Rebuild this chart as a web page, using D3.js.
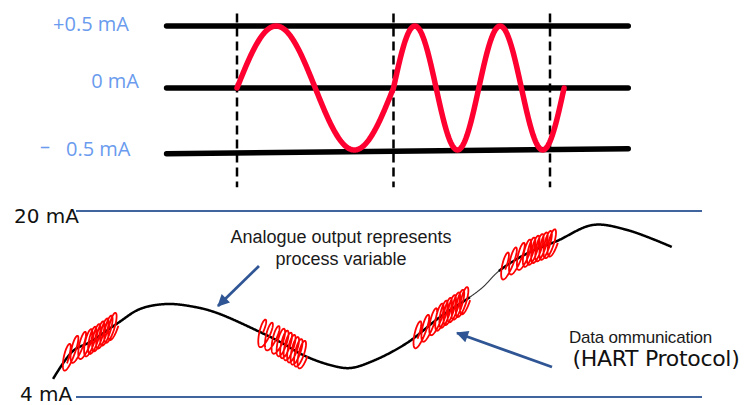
<!DOCTYPE html>
<html><head><meta charset="utf-8">
<script src="https://cdn.jsdelivr.net/npm/d3@7"></script>
<style>html,body{margin:0;padding:0;background:#fff;} svg{display:block;}</style>
</head><body>
<svg id="chart" width="747" height="405"></svg>
<script>
// ================= DATA =================
// Top panel: FSK signal (current deviation, mA) vs bit time
const levelLabels = ["+0.5 mA", "0 mA", "0.5 mA"];
const levelValues = [0.5, 0, -0.5];
const levelLeftValues = [0.5, 0, -0.53];
const levelRightValues = [0.5, 0, -0.49];
const levelSpan = [-0.45, 2.5];
const bitBoundaries = [0, 1, 2];
const guideSpan = [0.6, -0.8];
const fskStart = [0, 1];
const fskEnd = [1, 2.09];
const fskCycles = [1, 2];

// Bottom panel: analogue loop current (mA) vs time
const rangeLabels = ["20 mA", "4 mA"];
const rangeValues = [20, 4];
const pvTime = [-3.67, -0.48, 2.24, 6.71, 10.22, 14.54, 19.01, 22.52, 29.39, 32.91, 36.26, 40.58, 43.77, 47.44, 52.88, 58.15, 62.94, 65.02, 67.57, 72.20, 76.84, 82.59, 88.02, 95.21];
const pvCurrent = [5.55, 7.96, 8.73, 10.37, 11.57, 12.0, 11.74, 11.23, 9.59, 8.65, 7.61, 6.75, 6.49, 7.10, 8.65, 10.88, 12.60, 13.46, 14.84, 16.39, 17.42, 18.80, 18.37, 16.90];
const burstStart = [-2.0, 29.3, 54.0, 68.0];
const burstEnd = [6.2, 36.4, 62.4, 76.4];
const burstLowCycles = [3, 3, 3, 3];
const burstHighCycles = [7, 7, 7, 7];
const thinSegment = [62.9, 67.6];

const annoLines1 = ["Analogue output represents", "process variable"];
const annoPos1 = [42.33, 17.25];
const arrow1 = [[29.23, 15.27], [22.68, 11.83]];
const annoLine2a = "Data ommunication";
const annoLine2b = "(HART Protocol)";
const annoPos2a = [78.75, 8.65];
const annoPos2b = [79.3, 6.67];
const arrow2 = [[76.04, 6.58], [60.86, 9.51]];

// ================= DRAW =================
const svg = d3.select("#chart");
const RED = "#ff0030";
const BLUE = "#2f5594";
const LINEBLUE = "#3f649e";
const LABELBLUE = "#6a9bee";

// ---- top panel ----
const xTop = d3.scaleLinear().domain([0, 2]).range([237, 550]);
const yTop = d3.scaleLinear().domain([-0.5, 0.5]).range([150, 26]);

const gTop = svg.append("g");
levelValues.forEach((v, i) => {
  gTop.append("line")
    .attr("x1", xTop(levelSpan[0])).attr("x2", xTop(levelSpan[1]))
    .attr("y1", yTop(levelLeftValues[i])).attr("y2", yTop(levelRightValues[i]))
    .attr("stroke", "#000").attr("stroke-width", 5.5).attr("stroke-linecap", "round");
});
bitBoundaries.forEach(b => {
  gTop.append("line")
    .attr("x1", xTop(b)).attr("x2", xTop(b))
    .attr("y1", yTop(guideSpan[0])).attr("y2", yTop(guideSpan[1]))
    .attr("stroke", "#000").attr("stroke-width", 2.5).attr("stroke-dasharray", "9,5");
});
// FSK wave
const wave = [];
fskStart.forEach((s, i) => {
  const e = fskEnd[i], n = 200;
  for (let k = (i === 0 ? 0 : 1); k <= n; k++) {
    const t = s + (e - s) * k / n;
    wave.push([t, 0.5 * Math.sin(2 * Math.PI * fskCycles[i] * (t - s) / (e - s))]);
  }
});
gTop.append("path")
  .attr("d", d3.line().x(d => xTop(d[0])).y(d => yTop(d[1]))(wave))
  .attr("fill", "none").attr("stroke", RED).attr("stroke-width", 5.5)
  .attr("stroke-linecap", "round").attr("stroke-linejoin", "round");

// level labels
const labelFont = "'Open Sans', 'Noto Sans', sans-serif";
const labelLayout = [{x: 129, dy: 5}, {x: 139, dy: 0}, {x: 131, dy: 6}];
levelLabels.forEach((lab, i) => {
  const t = gTop.append("text")
    .attr("x", labelLayout[i].x).attr("y", yTop(levelValues[i]) + labelLayout[i].dy)
    .attr("text-anchor", "end").attr("font-family", labelFont).attr("font-size", 20)
    .attr("fill", LABELBLUE);
  if (levelValues[i] < 0) {
    t.attr("text-anchor", "start");
    t.append("tspan").attr("x", 40).attr("dy", -3).text("–");
    t.append("tspan").attr("x", 66).attr("dy", 3).text(lab);
  } else {
    t.text(lab);
  }
});

// ---- bottom panel ----
const xB = d3.scaleLinear().domain([0, 100]).range([76, 702]);
const yB = d3.scaleLinear().domain([4, 20]).range([397, 211]);
const bot = svg.append("g");

rangeValues.forEach(v => {
  bot.append("line")
    .attr("x1", xB(0)).attr("x2", xB(100))
    .attr("y1", yB(v)).attr("y2", yB(v))
    .attr("stroke", LINEBLUE).attr("stroke-width", 2);
});

// process-variable curve (sampled from a smooth path)
const pv = pvTime.map((t, i) => [xB(t), yB(pvCurrent[i])]);
const hidden = bot.append("path")
  .attr("d", d3.line().curve(d3.curveCatmullRom.alpha(0.5))(pv))
  .attr("fill", "none").attr("stroke", "none");
const node = hidden.node();
const L = node.getTotalLength();
const samples = [];
for (let l = 0; l <= L; l += 0.5) { const p = node.getPointAtLength(l); samples.push([p.x, p.y]); }
const bis = d3.bisector(d => d[0]).left;
function yAt(x) {
  let i = bis(samples, x);
  if (i <= 0) return samples[0][1];
  if (i >= samples.length) return samples[samples.length - 1][1];
  const a = samples[i - 1], b = samples[i];
  const f = (x - a[0]) / ((b[0] - a[0]) || 1);
  return a[1] + f * (b[1] - a[1]);
}
const thinX0 = xB(thinSegment[0]), thinX1 = xB(thinSegment[1]);
const lineGen = d3.line();
bot.append("path").attr("d", lineGen(samples.filter(p => p[0] <= thinX0 + 0.5)))
  .attr("fill", "none").attr("stroke", "#000").attr("stroke-width", 2.5);
bot.append("path").attr("d", lineGen(samples.filter(p => p[0] >= thinX1 - 0.5)))
  .attr("fill", "none").attr("stroke", "#000").attr("stroke-width", 2.5);
bot.append("path").attr("d", lineGen(samples.filter(p => p[0] >= thinX0 && p[0] <= thinX1)))
  .attr("fill", "none").attr("stroke", "#333").attr("stroke-width", 1.1);

// bursts (FSK coils riding on the analogue signal): tall, slightly tilted rings
const theta = 12 * Math.PI / 180;
const u = [Math.sin(theta), -Math.cos(theta)];
const v = [Math.cos(theta), Math.sin(theta)];
const A = 14, B = 3.6;
const perCycle = 120;
// within one ring the centre advances mostly while the pen is at the ring's right side
const wts = d3.range(perCycle).map(k => Math.pow(1 + Math.cos(2 * Math.PI * k / perCycle), 2));
const cum = [0]; wts.forEach((w, k) => cum.push(cum[k] + w));
const cumN = cum.map(c => c / cum[perCycle]);
burstStart.forEach((s, i) => {
  const e = burstEnd[i];
  const nLow = burstLowCycles[i], nHigh = burstHighCycles[i];
  const mid = s + (e - s) * 0.45;
  const total = nLow + nHigh;
  const pts = [];
  for (let k = 0; k <= total * perCycle; k++) {
    const ci = Math.min(Math.floor(k / perCycle), total - 1);
    const kk = k - ci * perCycle;
    const cc = ci + cumN[kk];
    let t;
    if (cc <= nLow) t = s + (mid - s) * cc / nLow;
    else t = mid + (e - mid) * (cc - nLow) / nHigh;
    const ph = 2 * Math.PI * k / perCycle;
    const cx = xB(t), cy = yAt(cx);
    pts.push([cx + u[0] * A * Math.sin(ph) + v[0] * B * Math.cos(ph),
              cy + u[1] * A * Math.sin(ph) + v[1] * B * Math.cos(ph)]);
  }
  bot.append("path").attr("d", d3.line()(pts))
    .attr("fill", "none").attr("stroke", "#ff0000").attr("stroke-width", 1.8);
});

// range labels
const comicFont = "'Comic Sans MS', 'DejaVu Sans', sans-serif";
const rangeLayout = [{x: 14, dy: 12}, {x: 20, dy: 4}];
rangeLabels.forEach((lab, i) => {
  bot.append("text").attr("x", rangeLayout[i].x).attr("y", yB(rangeValues[i]) + rangeLayout[i].dy)
    .attr("font-family", comicFont).attr("font-size", 20).attr("fill", "#111").text(lab);
});

// arrows
const defs = svg.append("defs");
defs.append("marker").attr("id", "ah").attr("markerUnits", "userSpaceOnUse")
  .attr("viewBox", "0 0 12 12").attr("refX", 11).attr("refY", 6)
  .attr("markerWidth", 13).attr("markerHeight", 12).attr("orient", "auto")
  .append("path").attr("d", "M0,0 L12,6 L0,12 Z").attr("fill", BLUE);
[arrow1, arrow2].forEach(a => {
  bot.append("line")
    .attr("x1", xB(a[0][0])).attr("y1", yB(a[0][1]))
    .attr("x2", xB(a[1][0])).attr("y2", yB(a[1][1]))
    .attr("stroke", BLUE).attr("stroke-width", 2.8).attr("marker-end", "url(#ah)");
});

// annotation texts
const sansFont = "'Liberation Sans', Arial, sans-serif";
annoLines1.forEach((ln, i) => {
  bot.append("text").attr("x", xB(annoPos1[0])).attr("y", yB(annoPos1[1]) + i * 22)
    .attr("text-anchor", "middle").attr("font-family", sansFont).attr("font-size", 18)
    .attr("fill", "#1a1a1a").text(ln);
});
bot.append("text").attr("x", xB(annoPos2a[0])).attr("y", yB(annoPos2a[1]))
  .attr("font-family", sansFont).attr("font-size", 17).attr("letter-spacing", -0.2)
  .attr("fill", "#1a1a1a").text(annoLine2a);
bot.append("text").attr("x", xB(annoPos2b[0])).attr("y", yB(annoPos2b[1]))
  .attr("font-family", comicFont).attr("font-size", 22).attr("letter-spacing", -0.3)
  .attr("fill", "#111").text(annoLine2b);
</script>
</body></html>
